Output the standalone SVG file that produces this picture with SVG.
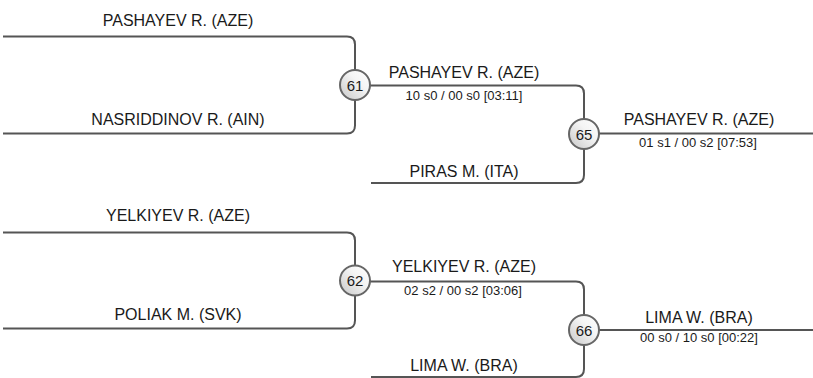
<svg xmlns="http://www.w3.org/2000/svg" width="813" height="378" viewBox="0 0 813 378">
<defs>
<linearGradient id="g" x1="0" y1="1" x2="1" y2="0">
<stop offset="0" stop-color="#c8c8c8"/>
<stop offset="0.6" stop-color="#f4f4f4"/>
<stop offset="1" stop-color="#ffffff"/>
</linearGradient>
<style>
.c{fill:none;stroke:#555;stroke-width:2}
.n{font-family:"Liberation Sans",Arial,sans-serif;font-size:16px;fill:#1a1a1a;text-anchor:middle}
.s{font-family:"Liberation Sans",Arial,sans-serif;font-size:13px;fill:#1a1a1a;text-anchor:middle}
.b{fill:url(#g);stroke:#666;stroke-width:2}
.t{font-family:"Liberation Sans",Arial,sans-serif;font-size:15px;fill:#1a1a1a;text-anchor:middle}
</style>
</defs>
<rect width="813" height="378" fill="#fff"/>
<g id="connectors">
<path class="c" d="M3,36.5 H347 Q355,36.5 355,44.5 V125.5 Q355,133.5 347,133.5 H3"/>
<path class="c" d="M355,85.5 H576 Q584,85.5 584,93.5 V175 Q584,183 576,183 H371"/>
<path class="c" d="M584,133.5 H813"/>
<path class="c" d="M3,232.5 H347 Q355,232.5 355,240.5 V320.5 Q355,328.5 347,328.5 H3"/>
<path class="c" d="M355,281.5 H576 Q584,281.5 584,289.5 V369 Q584,377 576,377 H371"/>
<path class="c" d="M584,330 H813"/>
</g>
<g id="labels">
<text class="n" x="178" y="26">PASHAYEV R. (AZE)</text>
<text class="n" x="178" y="125">NASRIDDINOV R. (AIN)</text>
<text class="n" x="464" y="78">PASHAYEV R. (AZE)</text>
<text class="s" x="464" y="100">10 s0 / 00 s0 [03:11]</text>
<text class="n" x="464" y="177">PIRAS M. (ITA)</text>
<text class="n" x="699" y="125">PASHAYEV R. (AZE)</text>
<text class="s" x="698" y="147">01 s1 / 00 s2 [07:53]</text>
<text class="n" x="178" y="221">YELKIYEV R. (AZE)</text>
<text class="n" x="178" y="319.5">POLIAK M. (SVK)</text>
<text class="n" x="464" y="272">YELKIYEV R. (AZE)</text>
<text class="s" x="463" y="295">02 s2 / 00 s2 [03:06]</text>
<text class="n" x="699" y="322.5">LIMA W. (BRA)</text>
<text class="s" x="699" y="342">00 s0 / 10 s0 [00:22]</text>
<text class="n" x="464" y="371">LIMA W. (BRA)</text>
</g>
<g id="m61"><circle class="b" cx="355" cy="85" r="15"/><text class="t" x="355" y="90.5">61</text></g>
<g id="m65"><circle class="b" cx="584" cy="134" r="15"/><text class="t" x="584" y="139.5">65</text></g>
<g id="m62"><circle class="b" cx="355" cy="280.5" r="15"/><text class="t" x="355" y="286">62</text></g>
<g id="m66"><circle class="b" cx="584" cy="330" r="15"/><text class="t" x="584" y="335.5">66</text></g>
</svg>
